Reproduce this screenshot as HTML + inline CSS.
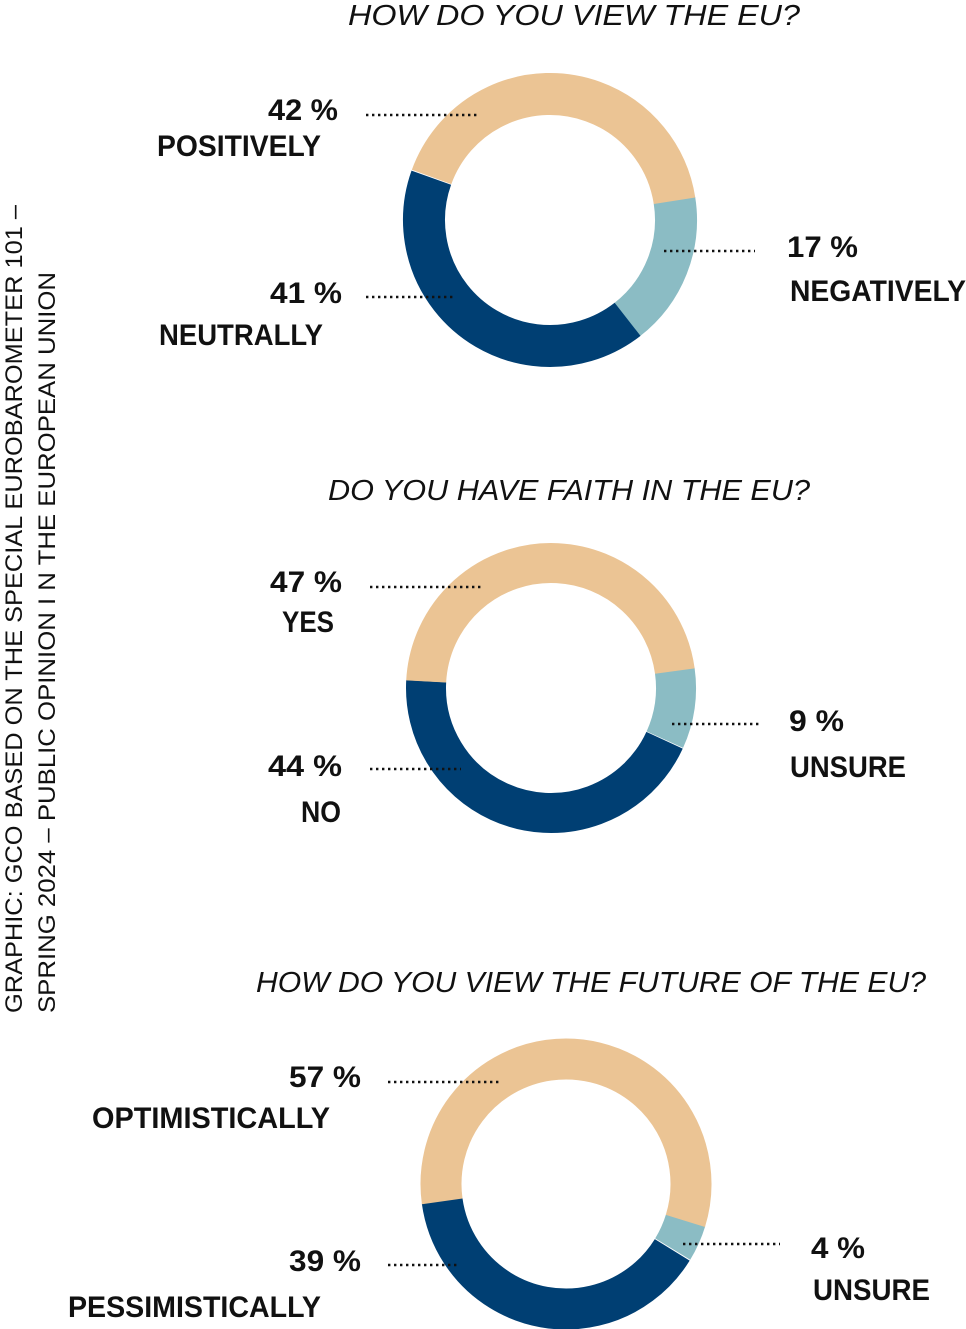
<!DOCTYPE html>
<html><head><meta charset="utf-8"><style>
html,body{margin:0;padding:0;background:#fff;}
svg{display:block;}
.t{font-family:"Liberation Sans",sans-serif;font-style:italic;font-size:29px;fill:#111;}
.l{font-family:"Liberation Sans",sans-serif;font-weight:bold;font-size:30px;fill:#111;}
.v{font-family:"Liberation Sans",sans-serif;font-size:24px;fill:#111;}
.d{stroke:#111;stroke-width:2.4;stroke-dasharray:2.4 3.6;}
</style></head><body>
<svg width="966" height="1329" viewBox="0 0 966 1329" xmlns="http://www.w3.org/2000/svg">
<g transform="rotate(-90)">
<text class="v" x="-1013" y="22" textLength="808" lengthAdjust="spacingAndGlyphs">GRAPHIC: GCO BASED ON THE SPECIAL EUROBAROMETER 101 –</text>
<text class="v" x="-1013" y="55" textLength="741" lengthAdjust="spacingAndGlyphs">SPRING 2024 – PUBLIC OPINION I N THE EUROPEAN UNION</text>
</g>

<text class="t" x="348" y="25" textLength="452" lengthAdjust="spacingAndGlyphs">HOW DO YOU VIEW THE EU?</text>
<g fill="none" stroke-width="42">
<circle cx="550" cy="220" r="126" pathLength="100" stroke="#8BBCC4" stroke-dasharray="17 100" transform="rotate(-9 550 220)"/>
<circle cx="550" cy="220" r="126" pathLength="100" stroke="#003F73" stroke-dasharray="41 100" transform="rotate(52 550 220)"/>
<circle cx="550" cy="220" r="126" pathLength="100" stroke="#EBC494" stroke-dasharray="42 100" transform="rotate(200 550 220)"/>
</g>
<line class="d" x1="366" y1="115" x2="478" y2="115"/>
<line class="d" x1="366" y1="297" x2="453" y2="297"/>
<line class="d" x1="664" y1="251" x2="755" y2="251"/>
<text class="l" x="268" y="120" textLength="70" lengthAdjust="spacingAndGlyphs">42 %</text>
<text class="l" x="157" y="156" textLength="164" lengthAdjust="spacingAndGlyphs">POSITIVELY</text>
<text class="l" x="270" y="303" textLength="72" lengthAdjust="spacingAndGlyphs">41 %</text>
<text class="l" x="159" y="345" textLength="164" lengthAdjust="spacingAndGlyphs">NEUTRALLY</text>
<text class="l" x="787" y="257" textLength="71" lengthAdjust="spacingAndGlyphs">17 %</text>
<text class="l" x="790" y="301" textLength="176" lengthAdjust="spacingAndGlyphs">NEGATIVELY</text>

<text class="t" x="328" y="500" textLength="482" lengthAdjust="spacingAndGlyphs">DO YOU HAVE FAITH IN THE EU?</text>
<g fill="none" stroke-width="40">
<circle cx="551" cy="688" r="125" pathLength="100" stroke="#8BBCC4" stroke-dasharray="9 100" transform="rotate(-8 551 688)"/>
<circle cx="551" cy="688" r="125" pathLength="100" stroke="#003F73" stroke-dasharray="44 100" transform="rotate(24.7 551 688)"/>
<circle cx="551" cy="688" r="125" pathLength="100" stroke="#EBC494" stroke-dasharray="47 100" transform="rotate(183 551 688)"/>
</g>
<line class="d" x1="370" y1="587" x2="482" y2="587"/>
<line class="d" x1="370" y1="769" x2="461" y2="769"/>
<line class="d" x1="672" y1="724" x2="762" y2="724"/>
<text class="l" x="270" y="592" textLength="72" lengthAdjust="spacingAndGlyphs">47 %</text>
<text class="l" x="282" y="632" textLength="52" lengthAdjust="spacingAndGlyphs">YES</text>
<text class="l" x="268" y="776" textLength="74" lengthAdjust="spacingAndGlyphs">44 %</text>
<text class="l" x="301" y="822" textLength="40" lengthAdjust="spacingAndGlyphs">NO</text>
<text class="l" x="789" y="731" textLength="55" lengthAdjust="spacingAndGlyphs">9 %</text>
<text class="l" x="790" y="777" textLength="116" lengthAdjust="spacingAndGlyphs">UNSURE</text>

<text class="t" x="256" y="992" textLength="670" lengthAdjust="spacingAndGlyphs">HOW DO YOU VIEW THE FUTURE OF THE EU?</text>
<g fill="none" stroke-width="41">
<circle cx="566" cy="1184" r="125" pathLength="100" stroke="#8BBCC4" stroke-dasharray="4 100" transform="rotate(17 566 1184)"/>
<circle cx="566" cy="1184" r="125" pathLength="100" stroke="#003F73" stroke-dasharray="39 100" transform="rotate(31.8 566 1184)"/>
<circle cx="566" cy="1184" r="125" pathLength="100" stroke="#EBC494" stroke-dasharray="57 100" transform="rotate(172 566 1184)"/>
</g>
<line class="d" x1="388" y1="1082" x2="500" y2="1082"/>
<line class="d" x1="388" y1="1265" x2="460" y2="1265"/>
<line class="d" x1="683" y1="1244" x2="780" y2="1244"/>
<text class="l" x="289" y="1087" textLength="72" lengthAdjust="spacingAndGlyphs">57 %</text>
<text class="l" x="92" y="1128" textLength="238" lengthAdjust="spacingAndGlyphs">OPTIMISTICALLY</text>
<text class="l" x="289" y="1271" textLength="72" lengthAdjust="spacingAndGlyphs">39 %</text>
<text class="l" x="68" y="1317" textLength="253" lengthAdjust="spacingAndGlyphs">PESSIMISTICALLY</text>
<text class="l" x="811" y="1258" textLength="54" lengthAdjust="spacingAndGlyphs">4 %</text>
<text class="l" x="813" y="1300" textLength="117" lengthAdjust="spacingAndGlyphs">UNSURE</text>
</svg>
</body></html>
